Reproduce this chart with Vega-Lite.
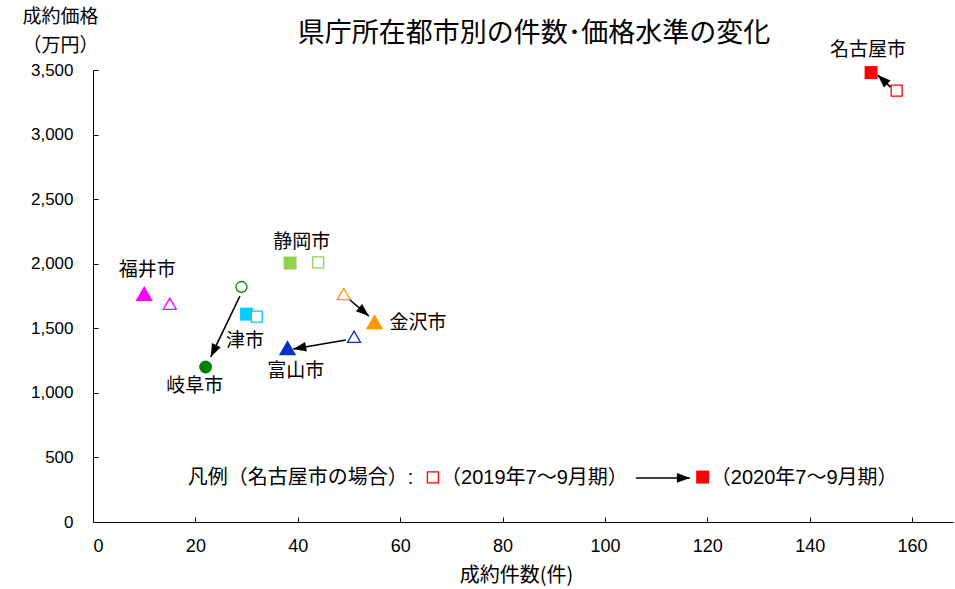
{
  "$schema": "https://vega.github.io/schema/vega-lite/v6.json",
  "width": 860,
  "height": 452,
  "autosize": "none",
  "padding": {"left": 93, "top": 70, "right": 2, "bottom": 67},
  "config": {"view": {"stroke": null}, "font": "Noto Sans CJK JP"},
  "title": {"text": "県庁所在都市別の件数･価格水準の変化", "frame": "group", "fontSize": 27, "fontWeight": "normal", "anchor": "middle", "baseline": "alphabetic", "dx": 11, "offset": -62, "color": "black", "font": "Noto Sans CJK JP"},
  "datasets": {
    "points": [
      {"city": "名古屋市", "period": "2019", "x": 157, "y": 3340},
      {"city": "名古屋市", "period": "2020", "x": 152, "y": 3480},
      {"city": "静岡市", "period": "2019", "x": 44, "y": 2010},
      {"city": "静岡市", "period": "2020", "x": 38.5, "y": 2005},
      {"city": "福井市", "period": "2019", "x": 15, "y": 1690},
      {"city": "福井市", "period": "2020", "x": 10, "y": 1770},
      {"city": "岐阜市", "period": "2019", "x": 29, "y": 1820},
      {"city": "岐阜市", "period": "2020", "x": 22, "y": 1200},
      {"city": "津市", "period": "2019", "x": 32, "y": 1590},
      {"city": "津市", "period": "2020", "x": 30, "y": 1610},
      {"city": "金沢市", "period": "2019", "x": 49, "y": 1765},
      {"city": "金沢市", "period": "2020", "x": 55, "y": 1550},
      {"city": "富山市", "period": "2019", "x": 51, "y": 1435},
      {"city": "富山市", "period": "2020", "x": 38, "y": 1350},
      {"city": "名古屋市", "period": "2019", "x": 66.4, "y": 345},
      {"city": "名古屋市", "period": "2020", "x": 119.1, "y": 348}
    ],
    "arrows": [
      {"x0": 28.7, "y0": 1750, "x1": 23.0, "y1": 1278},
      {"x0": 50.2, "y0": 1719, "x1": 53.9, "y1": 1595},
      {"x0": 49.4, "y0": 1409, "x1": 39.1, "y1": 1340},
      {"x0": 155.8, "y0": 3368, "x1": 153.3, "y1": 3461},
      {"x0": 106.05, "y0": 341, "x1": 116.6, "y1": 341}
    ],
    "labels": [
      {"text": "名古屋市", "x": 151.4, "y": 3655},
      {"text": "静岡市", "x": 40.8, "y": 2168},
      {"text": "福井市", "x": 10.6, "y": 1951},
      {"text": "津市", "x": 29.7, "y": 1402},
      {"text": "岐阜市", "x": 19.9, "y": 1053},
      {"text": "金沢市", "x": 63.5, "y": 1541},
      {"text": "富山市", "x": 39.6, "y": 1169}
    ],
    "legendText": [
      {"text": "凡例（名古屋市の場合）:", "x": 18.5, "y": 341},
      {"text": "（2019年7～9月期）", "x": 68, "y": 341},
      {"text": "（2020年7～9月期）", "x": 120.7, "y": 341}
    ]
  },
  "resolve": {"scale": {"size": "independent"}},
  "layer": [
    {
      "data": {"name": "points"},
      "transform": [{"filter": "datum.period == '2020'"}],
      "mark": {"type": "point", "filled": true, "opacity": 1},
      "encoding": {
        "x": {"field": "x", "type": "quantitative", "scale": {"domain": [0, 168], "nice": false},
          "axis": {"values": [0, 20, 40, 60, 80, 100, 120, 140, 160], "grid": false, "domainColor": "#000", "tickColor": "#000", "tickSize": -5, "labelFont": "Liberation Sans", "labelFontSize": 18, "labelColor": "#000", "labelPadding": 20, "title": "成約件数(件)", "titleX": 423, "titleAlign": "center", "titleFont": "Noto Sans CJK JP", "titleFontSize": 20, "titleFontWeight": "normal", "titleColor": "#000", "titlePadding": 10}},
        "y": {"field": "y", "type": "quantitative", "scale": {"domain": [0, 3500], "nice": false},
          "axis": {"values": [0, 500, 1000, 1500, 2000, 2500, 3000, 3500], "format": ",d", "grid": false, "domainColor": "#000", "tickColor": "#000", "tickSize": -5, "labelFont": "Liberation Sans", "labelFontSize": 17, "labelColor": "#000", "labelPadding": 25,
            "title": ["成約価格", "（万円）"], "titleAngle": 0, "titleAlign": "center", "titleBaseline": "top", "titleX": -33, "titleY": -63, "titleFont": "Noto Sans CJK JP", "titleFontSize": 19, "titleFontWeight": "normal", "titleColor": "#000", "titleLineHeight": 29}},
        "color": {"field": "city", "type": "nominal", "legend": null,
          "scale": {"domain": ["名古屋市", "静岡市", "福井市", "岐阜市", "津市", "金沢市", "富山市"], "range": ["#FF0000", "#92D050", "#FF00FF", "#008000", "#00CCFF", "#FF9900", "#0033CC"]}},
        "shape": {"field": "city", "type": "nominal", "legend": null,
          "scale": {"domain": ["名古屋市", "静岡市", "福井市", "岐阜市", "津市", "金沢市", "富山市"], "range": ["square", "square", "triangle-up", "circle", "square", "triangle-up", "triangle-up"]}},
        "size": {"field": "city", "type": "nominal", "legend": null,
          "scale": {"type": "ordinal", "domain": ["名古屋市", "静岡市", "福井市", "岐阜市", "津市", "金沢市", "富山市"], "range": [169, 169, 300, 165, 169, 300, 300]}}
      }
    },
    {
      "data": {"name": "points"},
      "transform": [{"filter": "datum.period == '2019'"}],
      "mark": {"type": "point", "filled": false, "opacity": 1, "strokeWidth": 1.3, "fill": "white", "fillOpacity": 1},
      "encoding": {
        "x": {"field": "x", "type": "quantitative"},
        "y": {"field": "y", "type": "quantitative"},
        "color": {"field": "city", "type": "nominal", "legend": null},
        "shape": {"field": "city", "type": "nominal", "legend": null},
        "size": {"field": "city", "type": "nominal", "legend": null,
          "scale": {"type": "ordinal", "domain": ["名古屋市", "静岡市", "福井市", "岐阜市", "津市", "金沢市", "富山市"], "range": [121, 121, 169, 120, 121, 169, 169]}}
      }
    },
    {
      "data": {"name": "arrows"},
      "mark": {"type": "rule", "color": "black", "strokeWidth": 1.6},
      "encoding": {
        "x": {"field": "x0", "type": "quantitative"},
        "y": {"field": "y0", "type": "quantitative"},
        "x2": {"field": "x1"},
        "y2": {"field": "y1"}
      }
    },
    {
      "data": {"name": "arrows"},
      "transform": [{"calculate": "atan2((datum.x1 - datum.x0) * 860 / 168, (datum.y1 - datum.y0) * 452 / 3500) * 180 / PI", "as": "ang"}],
      "mark": {"type": "point", "shape": "M0,0L-0.75,2L0.75,2Z", "filled": true, "color": "black", "opacity": 1, "size": 169},
      "encoding": {
        "x": {"field": "x1", "type": "quantitative"},
        "y": {"field": "y1", "type": "quantitative"},
        "angle": {"field": "ang", "type": "quantitative", "scale": null}
      }
    },
    {
      "data": {"name": "labels"},
      "mark": {"type": "text", "align": "center", "baseline": "middle", "fontSize": 19, "color": "black", "font": "Noto Sans CJK JP"},
      "encoding": {
        "x": {"field": "x", "type": "quantitative"},
        "y": {"field": "y", "type": "quantitative"},
        "text": {"field": "text"}
      }
    },
    {
      "data": {"name": "legendText"},
      "mark": {"type": "text", "align": "left", "baseline": "middle", "fontSize": 20, "color": "black", "font": "Liberation Sans, Noto Sans CJK JP"},
      "encoding": {
        "x": {"field": "x", "type": "quantitative"},
        "y": {"field": "y", "type": "quantitative"},
        "text": {"field": "text"}
      }
    }
  ]
}
